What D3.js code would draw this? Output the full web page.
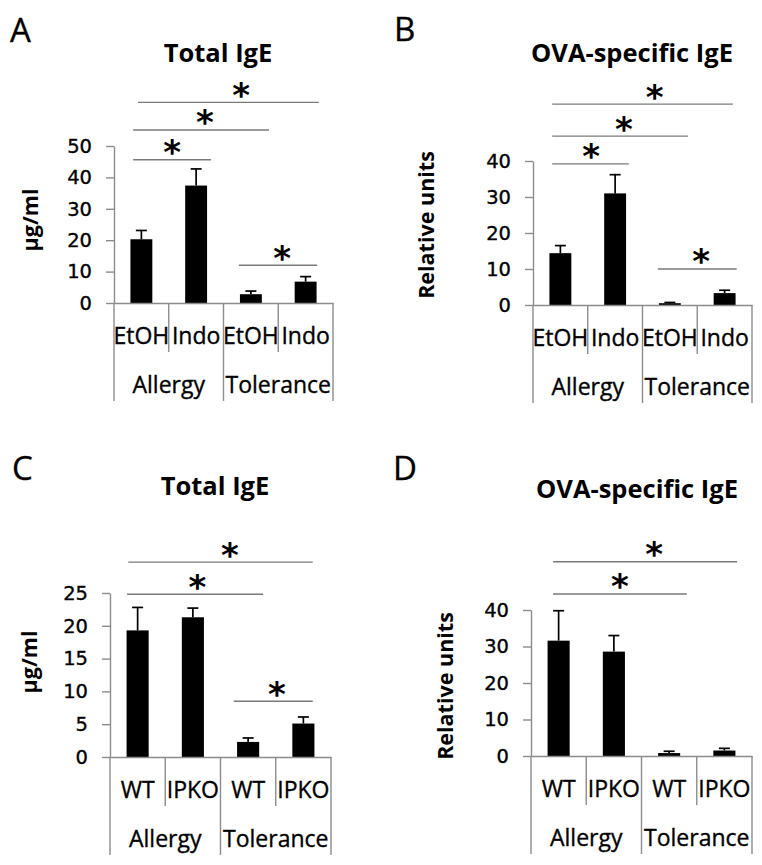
<!DOCTYPE html>
<html><head><meta charset="utf-8">
<script src="https://cdn.jsdelivr.net/npm/d3@7"></script>
<style>body{margin:0;background:#fff}</style>
</head><body><svg id="c" width="762" height="865"></svg>
<script>
const panelLetters = ["A","B","C","D"];
const panelTitles = ["Total IgE","OVA-specific IgE","Total IgE","OVA-specific IgE"];
const yAxisTitles = ["µg/ml","Relative units","µg/ml","Relative units"];
const groups = ["Allergy","Tolerance"];
const treatmentLabels = ["EtOH","Indo","EtOH","Indo"];
const genotypeLabels = ["WT","IPKO","WT","IPKO"];

const totalIgE_A = [20.3, 37.4, 2.8, 6.8];
const totalIgE_A_err = [2.8, 5.3, 1.0, 1.6];
const ovaIgE_B = [14.4, 31.0, 0.5, 3.3];
const ovaIgE_B_err = [2.1, 5.2, 0.2, 0.8];
const totalIgE_C = [19.3, 21.3, 2.3, 5.1];
const totalIgE_C_err = [3.5, 1.4, 0.6, 1.0];
const ovaIgE_D = [31.6, 28.6, 0.8, 1.5];
const ovaIgE_D_err = [8.2, 4.4, 0.5, 0.6];

const ticksA = [0,10,20,30,40,50];
const ticksB = [0,10,20,30,40];
const ticksC = [0,5,10,15,20,25];
const ticksD = [0,10,20,30,40];

// significance brackets: [from, to, level, star] (category units, value units)
const sigA = [[-0.15,1.27,45.6,0.56],[-0.15,2.33,55.1,1.16],[-0.06,3.24,63.9,1.82],[1.78,3.21,12.0,2.57]];
const sigB = [[-0.15,1.25,39.2,0.56],[-0.15,2.33,46.9,1.16],[-0.15,3.15,55.8,1.72],[1.78,3.22,10.0,2.57]];
const sigC = [[-0.19,2.27,24.8,1.08],[-0.17,3.17,29.7,1.67],[1.74,3.17,8.5,2.52]];
const sigD = [[-0.10,2.32,44.4,1.11],[-0.10,3.23,53.2,1.73]];

const layouts = [
  {left:114, right:333, zeroY:303, topY:146, letter:[10,42],  title:[218,62],  yTitle:[38,220]},
  {left:533, right:752, zeroY:305, topY:161, letter:[394,41], title:[632,62],  yTitle:[434,225]},
  {left:110, right:331, zeroY:757, topY:593, letter:[12,480], title:[215,495], yTitle:[37,662]},
  {left:531, right:752, zeroY:756, topY:610, letter:[393,480],title:[637,498], yTitle:[453,686]}
];

const panels = [
  {values:totalIgE_A, errs:totalIgE_A_err, ticks:ticksA, cats:treatmentLabels, sig:sigA},
  {values:ovaIgE_B,  errs:ovaIgE_B_err,  ticks:ticksB, cats:treatmentLabels, sig:sigB},
  {values:totalIgE_C, errs:totalIgE_C_err, ticks:ticksC, cats:genotypeLabels, sig:sigC},
  {values:ovaIgE_D,  errs:ovaIgE_D_err,  ticks:ticksD, cats:genotypeLabels, sig:sigD}
];

const svg = d3.select("#c");
const TXT = "#000";
const AXIS = "#8c8c8c";
const SIGC = "#7a7a7a";
const FONT = "'Open Sans', sans-serif";
const TICKFONT = "'DejaVu Sans', sans-serif";
const HEAVY = 0.35;

panels.forEach((p, pi) => {
  const L = layouts[pi];
  const g = svg.append("g");
  const n = p.values.length;
  const x = d3.scaleBand().domain(d3.range(n)).range([L.left, L.right]);
  const bw = x.bandwidth();
  const xc = d3.scaleLinear().domain([-0.5, n - 0.5]).range([L.left, L.right]);
  const y = d3.scaleLinear().domain([0, d3.max(p.ticks)]).range([L.zeroY, L.topY]);

  // error bars
  const eb = g.append("g").attr("stroke", "#000").attr("stroke-width", 1.7);
  eb.selectAll("line.v").data(p.values).join("line")
    .attr("x1", (d,i) => xc(i)).attr("x2", (d,i) => xc(i))
    .attr("y1", d => y(d)).attr("y2", (d,i) => y(d + p.errs[i]));
  eb.selectAll("line.c").data(p.values).join("line")
    .attr("x1", (d,i) => xc(i) - 5.5).attr("x2", (d,i) => xc(i) + 5.5)
    .attr("y1", (d,i) => y(d + p.errs[i])).attr("y2", (d,i) => y(d + p.errs[i]));

  // bars
  g.append("g").selectAll("rect").data(p.values).join("rect")
    .attr("x", (d,i) => x(i) + bw * 0.3).attr("width", bw * 0.4)
    .attr("y", d => y(d)).attr("height", d => y(0) - y(d))
    .attr("fill", "#000");

  // y axis
  const ya = g.append("g").attr("transform", `translate(${L.left},0)`)
    .call(d3.axisLeft(y).tickValues(p.ticks).tickSize(8).tickSizeOuter(0).tickPadding(14));
  ya.select(".domain").attr("stroke", AXIS).attr("stroke-width", 1.4);
  ya.selectAll(".tick line").attr("stroke", AXIS).attr("stroke-width", 1.4);
  ya.selectAll(".tick text").attr("fill", TXT).attr("stroke", TXT).attr("stroke-width", HEAVY)
    .attr("font-family", TICKFONT).attr("font-size", 19.5);

  // x axis
  const xa = g.append("g").attr("transform", `translate(0,${L.zeroY})`)
    .call(d3.axisBottom(x).tickSize(0).tickSizeOuter(0).tickFormat(i => p.cats[i]));
  xa.select(".domain").attr("stroke", AXIS).attr("stroke-width", 1.4);
  xa.selectAll(".tick text").attr("dy", null).attr("y", 41)
    .attr("fill", TXT).attr("stroke", TXT).attr("stroke-width", HEAVY)
    .attr("font-family", FONT).attr("font-size", 23);

  // category dividers
  g.append("g").attr("stroke", AXIS).attr("stroke-width", 1.4)
    .selectAll("line").data(d3.range(n + 1)).join("line")
    .attr("x1", k => xc(k - 0.5)).attr("x2", k => xc(k - 0.5))
    .attr("y1", L.zeroY).attr("y2", k => L.zeroY + (k % 2 === 0 ? 98 : 49));

  // group labels
  g.append("g").selectAll("text").data(groups).join("text")
    .attr("x", (d,j) => xc(j * 2 + 0.5)).attr("y", L.zeroY + 90)
    .attr("text-anchor", "middle").attr("fill", TXT).attr("stroke", TXT).attr("stroke-width", HEAVY)
    .attr("font-family", FONT).attr("font-size", 23).text(d => d);

  // significance brackets
  const sg = g.append("g");
  sg.selectAll("line").data(p.sig).join("line")
    .attr("x1", d => xc(d[0])).attr("x2", d => xc(d[1]))
    .attr("y1", d => y(d[2])).attr("y2", d => y(d[2]))
    .attr("stroke", SIGC).attr("stroke-width", 1.4);
  sg.selectAll("text").data(p.sig).join("text")
    .attr("x", d => xc(d[3])).attr("y", d => y(d[2]) - 15 + 0.57 * 34)
    .attr("text-anchor", "middle").attr("fill", TXT).attr("font-weight", "bold")
    .attr("font-family", TICKFONT).attr("font-size", 34).text("*");

  // title
  g.append("text").attr("x", L.title[0]).attr("y", L.title[1])
    .attr("text-anchor", "middle").attr("fill", TXT).attr("font-weight", "bold")
    .attr("font-family", FONT).attr("font-size", 25.5).text(panelTitles[pi]);

  // panel letter
  g.append("text").attr("x", L.letter[0]).attr("y", L.letter[1])
    .attr("fill", TXT).attr("stroke", TXT).attr("stroke-width", HEAVY)
    .attr("font-family", FONT).attr("font-size", 33).text(panelLetters[pi]);

  // y title
  g.append("text").attr("transform", `translate(${L.yTitle[0]},${L.yTitle[1]}) rotate(-90)`)
    .attr("text-anchor", "middle").attr("fill", TXT).attr("font-weight", "bold")
    .attr("font-family", FONT).attr("font-size", 21.5).text(yAxisTitles[pi]);
});
</script>
</body></html>
